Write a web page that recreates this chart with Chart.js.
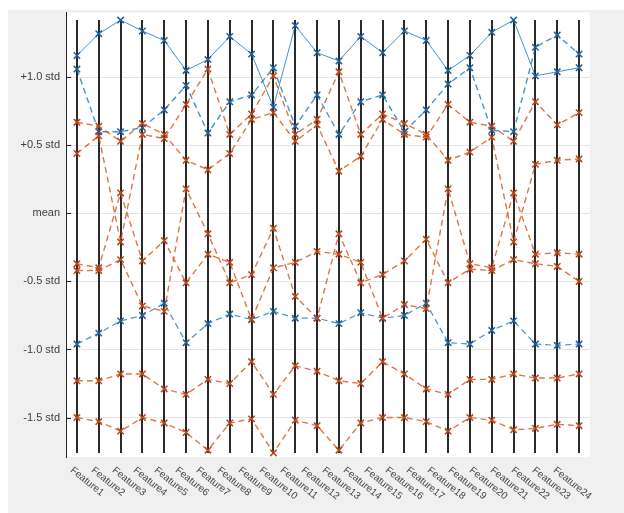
<!DOCTYPE html>
<html>
<head>
<meta charset="utf-8">
<script src="https://cdn.jsdelivr.net/npm/chart.js@4.4.1/dist/chart.umd.min.js"></script>
<style>
  html, body { margin: 0; padding: 0; background: #ffffff; }
  #c { display: block; }
</style>
</head>
<body>
<canvas id="c" width="624" height="513"></canvas>
<script>
// Feature names along the horizontal axis
const features = ['Feature1','Feature2','Feature3','Feature4','Feature5','Feature6',
  'Feature7','Feature8','Feature9','Feature10','Feature11','Feature12',
  'Feature13','Feature14','Feature15','Feature16','Feature17','Feature18',
  'Feature19','Feature20','Feature21','Feature22','Feature23','Feature24'];

// Vertical ticks (in standard deviations) and their labels
const tickValues = [-1.5, -1.0, -0.5, 0, 0.5, 1.0];
const tickLabels = ['-1.5 std', '-1.0 std', '-0.5 std', 'mean', '+0.5 std', '+1.0 std'];
const yMin = -1.79;
const yMax = 1.475;

// Group 1 (blue) profiles
const blueUpper  = [1.16,1.32,1.42,1.34,1.27,1.05,1.13,1.30,1.17,0.78,1.38,1.18,1.12,1.30,1.18,1.34,1.27,1.05,1.16,1.33,1.42,1.01,1.04,1.07];
const blueMiddle = [1.06,0.60,0.60,0.63,0.76,0.94,0.59,0.82,0.87,1.07,0.64,0.87,0.58,0.82,0.87,0.60,0.76,0.95,1.07,0.61,0.60,1.22,1.31,1.17];
const blueLower  = [-0.96,-0.88,-0.79,-0.75,-0.66,-0.95,-0.81,-0.74,-0.78,-0.72,-0.77,-0.77,-0.81,-0.73,-0.77,-0.75,-0.66,-0.95,-0.96,-0.86,-0.79,-0.96,-0.97,-0.96];

// Group 2 (orange) profiles
const orangeA = [0.67,0.64,0.53,0.66,0.58,0.39,0.32,0.44,0.69,0.74,0.53,0.65,0.31,0.42,0.69,0.58,0.56,0.80,0.67,0.64,0.53,0.82,0.65,0.74];
const orangeB = [0.44,0.57,-0.21,0.58,0.55,0.80,1.06,0.58,0.73,1.01,0.58,0.69,1.04,0.58,0.73,0.66,0.58,0.39,0.45,0.56,-0.21,0.36,0.39,0.40];
const orangeC = [-0.37,-0.40,0.15,-0.35,-0.20,-0.51,-0.30,-0.36,-0.78,-0.40,-0.36,-0.28,-0.30,-0.36,-0.77,-0.67,-0.70,0.18,-0.37,-0.40,0.15,-0.30,-0.29,-0.30];
const orangeD = [-0.42,-0.42,-0.34,-0.68,-0.72,0.18,-0.15,-0.51,-0.45,-0.11,-0.61,-0.77,-0.15,-0.51,-0.45,-0.35,-0.19,-0.51,-0.41,-0.42,-0.34,-0.37,-0.39,-0.50];
const orangeE = [-1.23,-1.23,-1.18,-1.18,-1.29,-1.33,-1.22,-1.25,-1.09,-1.33,-1.12,-1.16,-1.23,-1.25,-1.09,-1.18,-1.29,-1.33,-1.22,-1.22,-1.18,-1.21,-1.21,-1.18];
const orangeF = [-1.50,-1.53,-1.60,-1.50,-1.54,-1.61,-1.74,-1.54,-1.51,-1.76,-1.52,-1.56,-1.74,-1.54,-1.50,-1.50,-1.53,-1.60,-1.50,-1.52,-1.59,-1.58,-1.55,-1.56];

const BLUE_LINE = 'rgba(0,114,189,0.75)';
const BLUE_MARK = '#1f5f9a';
const ORANGE_LINE = 'rgba(217,83,25,0.8)';
const ORANGE_MARK = '#b8461a';

function series(values, lineColor, markColor, dashed, width) {
  return {
    data: values,
    borderColor: lineColor,
    borderWidth: width,
    borderDash: dashed ? [6, 4] : [],
    pointStyle: 'crossRot',
    pointRadius: 4.5,
    pointBorderWidth: 1.5,
    pointBorderColor: markColor,
    pointBackgroundColor: markColor,
    fill: false,
    tension: 0
  };
}

const datasets = [
  series(orangeA, ORANGE_LINE, ORANGE_MARK, true, 1.4),
  series(orangeB, ORANGE_LINE, ORANGE_MARK, true, 1.4),
  series(orangeC, ORANGE_LINE, ORANGE_MARK, true, 1.4),
  series(orangeD, ORANGE_LINE, ORANGE_MARK, true, 1.4),
  series(orangeE, ORANGE_LINE, ORANGE_MARK, true, 1.4),
  series(orangeF, ORANGE_LINE, ORANGE_MARK, true, 1.4),
  series(blueUpper, BLUE_LINE, BLUE_MARK, false, 1),
  series(blueMiddle, BLUE_LINE, BLUE_MARK, true, 1.4),
  series(blueLower, BLUE_LINE, BLUE_MARK, true, 1.2)
];

// Span of the coordinate axes: from the smallest to the largest plotted value
const allValues = [].concat(blueUpper, blueMiddle, blueLower, orangeA, orangeB, orangeC, orangeD, orangeE, orangeF);
const spanTop = Math.max(...allValues);
const spanBottom = Math.min(...allValues);

const framePlugin = {
  id: 'frame',
  beforeDraw(chart) {
    const { ctx, chartArea: a } = chart;
    ctx.save();
    ctx.fillStyle = '#f0f0f0';
    ctx.fillRect(8, 10, chart.width - 8, chart.height - 10);
    ctx.fillStyle = '#ffffff';
    ctx.fillRect(a.left, a.top, a.right - a.left, a.bottom - a.top);
    ctx.restore();
  },
  beforeDatasetsDraw(chart) {
    const { ctx, chartArea: a } = chart;
    const xs = chart.scales.x, ys = chart.scales.y;
    ctx.save();
    // one vertical coordinate axis per feature
    ctx.strokeStyle = '#2b2b2b';
    ctx.lineWidth = 2;
    const y0 = ys.getPixelForValue(spanTop);
    const y1 = ys.getPixelForValue(spanBottom);
    features.forEach((f, i) => {
      const x = Math.round(xs.getPixelForValue(i));
      ctx.beginPath();
      ctx.moveTo(x, y0);
      ctx.lineTo(x, y1);
      ctx.stroke();
    });
    // inward tick marks on the left axis
    ctx.strokeStyle = '#262626';
    ctx.lineWidth = 1;
    tickValues.forEach(v => {
      const y = Math.round(ys.getPixelForValue(v)) + 0.5;
      ctx.beginPath();
      ctx.moveTo(a.left, y);
      ctx.lineTo(a.left + 5, y);
      ctx.stroke();
    });
    ctx.restore();
  },
  afterDraw(chart) {
    const { ctx, chartArea: a } = chart;
    const xs = chart.scales.x;
    ctx.save();
    ctx.fillStyle = '#454545';
    ctx.font = '10px "Liberation Sans", Arial, sans-serif';
    ctx.textAlign = 'left';
    ctx.textBaseline = 'middle';
    features.forEach((f, i) => {
      // rotated labels sit slightly tighter than the axes they name
      const x = a.left + (xs.getPixelForValue(i) - a.left) * 0.962 - 5;
      ctx.save();
      ctx.translate(x, a.bottom + 12);
      ctx.rotate(39 * Math.PI / 180);
      ctx.fillText(f, 0, 0);
      ctx.restore();
    });
    ctx.restore();
  }
};

new Chart(document.getElementById('c'), {
  type: 'line',
  data: { labels: features, datasets: datasets },
  options: {
    responsive: false,
    devicePixelRatio: 1,
    animation: false,
    layout: { padding: { left: 0, right: 34, top: 10, bottom: 56 } },
    plugins: { legend: { display: false }, tooltip: { enabled: false } },
    scales: {
      x: {
        type: 'category',
        offset: true,
        display: false
      },
      y: {
        min: yMin,
        max: yMax,
        afterFit(scale) { scale.width = 66; },
        afterBuildTicks(scale) { scale.ticks = tickValues.map(v => ({ value: v })); },
        ticks: {
          padding: 6,
          color: '#404040',
          font: { family: '"Liberation Sans", Arial, sans-serif', size: 11 },
          callback(value) {
            const k = tickValues.indexOf(value);
            return k >= 0 ? tickLabels[k] : '';
          }
        },
        grid: { color: '#e4e4e4', lineWidth: 1, drawTicks: false },
        border: { display: true, color: '#262626', width: 1 }
      }
    }
  },
  plugins: [framePlugin]
});
</script>
</body>
</html>
